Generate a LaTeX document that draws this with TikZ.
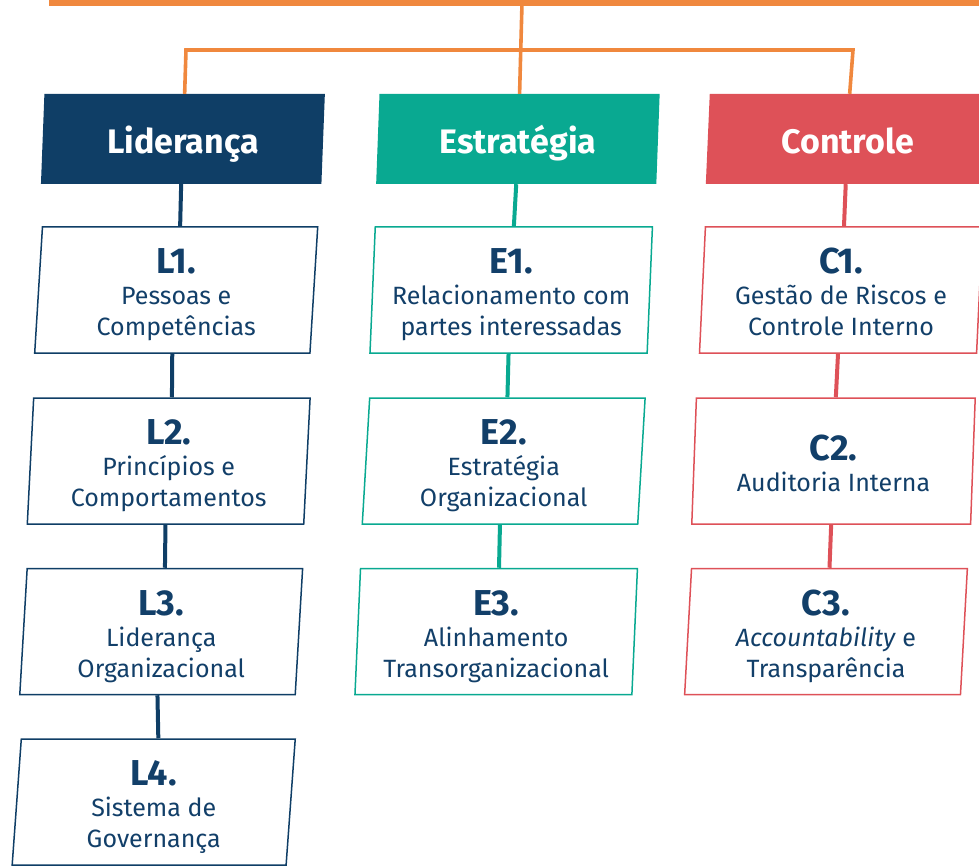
\documentclass[tikz,border=0pt]{standalone}
\usepackage{fontspec}
\setmainfont{Fira Sans}
\usetikzlibrary{shapes.geometric}
\definecolor{cnavy}{HTML}{0F3E66}
\definecolor{cteal}{HTML}{09A991}
\definecolor{cred}{HTML}{DE5158}
\definecolor{corange}{HTML}{F0883E}
\definecolor{ctext}{HTML}{123F69}
\newcommand\lab[1]{\rule{0pt}{36pt}{\fontsize{36}{31}\selectfont\bfseries #1}}
\newcommand\dstr{\rule[-7pt]{0pt}{7pt}}
\begin{document}
\begin{tikzpicture}[x=1pt,y=-1pt,
  pgram/.style={trapezium, trapezium left angle=87.48, trapezium right angle=92.52,
    trapezium stretches=true, inner sep=0pt, align=center},
  headbox/.style={pgram, minimum width=284pt, minimum height=90pt, fill=#1,
    text=white, font=\fontsize{34}{34}\selectfont\bfseries,
    text height=36pt, text depth=7pt},
  itembox/.style={pgram, minimum width=283.5pt, minimum height=126pt, draw=#1,
    line width=1.5pt, fill=white, text=ctext, font=\fontsize{25}{31}\selectfont},
  link/.style={draw=#1, line width=4pt},
  olink/.style={draw=corange, line width=3.6pt},
]
\useasboundingbox (0,0) rectangle (979,866);
\clip (0,0) rectangle (979,866);

% headers
\node[headbox=cnavy] (HL) at (182.9,139) {Liderança};
\node[headbox=cteal] (HE) at (517.9,139) {Estratégia};
\node[headbox=cred]  (HC) at (847.7,139) {Controle};

% Lideranca column
\node[itembox=cnavy] (L1) at (176.2,290)   {\lab{L1.}\\Pessoas e\\Competências\dstr};
\node[itembox=cnavy] (L2) at (168.7,461)   {\lab{L2.}\\Princípios e\\Comportamentos\dstr};
\node[itembox=cnavy] (L3) at (161.2,631.5) {\lab{L3.}\\Liderança\\Organizacional\dstr};
\node[itembox=cnavy] (L4) at (153.7,802)   {\lab{L4.}\\Sistema de\\Governança\dstr};

% Estrategia column
\node[itembox=cteal] (E1) at (511.2,290)   {\lab{E1.}\\Relacionamento com\\partes interessadas\dstr};
\node[itembox=cteal] (E2) at (503.7,461)   {\lab{E2.}\\Estratégia\\Organizacional\dstr};
\node[itembox=cteal] (E3) at (496.2,631.5) {\lab{E3.}\\Alinhamento\\Transorganizacional\dstr};

% Controle column
\node[itembox=cred] (C1) at (841.0,290)   {\lab{C1.}\\Gestão de Riscos e\\Controle Interno\dstr};
\node[itembox=cred] (C2) at (833.5,461)   {\lab{C2.}\\Auditoria Interna\dstr};
\node[itembox=cred] (C3) at (826.0,631.5) {\lab{C3.}\\\textit{Accountability} e\\Transparência\dstr};

% column connectors
\draw[link=cnavy] (HL.bottom side) -- (L1.top side);
\draw[link=cnavy] (L1.bottom side) -- (L2.top side);
\draw[link=cnavy] (L2.bottom side) -- (L3.top side);
\draw[link=cnavy] (L3.bottom side) -- (L4.top side);
\draw[link=cteal] (HE.bottom side) -- (E1.top side);
\draw[link=cteal] (E1.bottom side) -- (E2.top side);
\draw[link=cteal] (E2.bottom side) -- (E3.top side);
\draw[link=cred] (HC.bottom side) -- (C1.top side);
\draw[link=cred] (C1.bottom side) -- (C2.top side);
\draw[link=cred] (C2.bottom side) -- (C3.top side);

% orange tree
\coordinate (barL) at (49,3);
\coordinate (barR) at (990,3);
\coordinate (trunk) at (522,3);
\coordinate (brL) at (186,50);
\coordinate (brR) at (853,50);
\draw[draw=corange, line width=6.5pt] (barL) -- (barR);
\draw[olink] (trunk) -- (HE.top side);
\draw[olink, line join=miter] (HL.top side) -- (brL) -- (brR) -- (HC.top side);
\end{tikzpicture}
\end{document}
